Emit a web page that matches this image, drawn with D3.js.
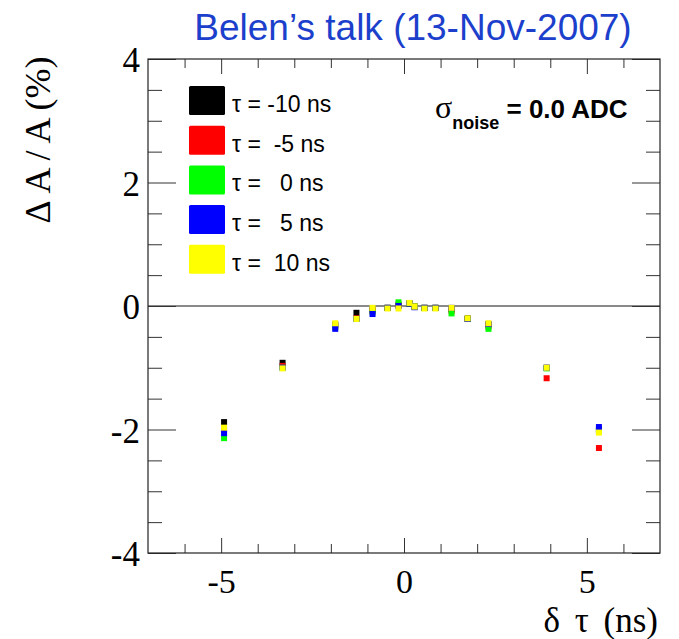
<!DOCTYPE html>
<html lang="en">
<head>
  <meta charset="UTF-8">
  <title>Delta A / A vs delta tau</title>
  <script src="https://d3js.org/d3.v7.min.js"></script>
  <style>
    body { margin: 0; background: #fff; }
    svg { display: block; }
  </style>
</head>
<body>

<script>
  // chart data
  const dtau = [-4.92, -3.32, -1.88, -1.30, -0.86, -0.45, -0.15, 0.15, 0.29, 0.56, 0.86, 1.30, 1.74, 2.31, 3.90, 5.33];

  const seriesNames = ['τ = -10 ns', 'τ =  -5 ns', 'τ =   0 ns', 'τ =   5 ns', 'τ =  10 ns'];
  const seriesColors = ['#000000', '#ff0000', '#00ff00', '#0000ff', '#ffff00'];

  const tauM10 = [-1.88, -0.92, -0.30, -0.11, -0.06, -0.03, 0.02, 0.04, -0.01, -0.03, -0.03, -0.05, -0.20, -0.30, -1.00, -2.00];
  const tauM5  = [-2.00, -0.97, -0.32, -0.20, -0.08, -0.03, 0.01, 0.04, -0.01, -0.03, -0.03, -0.08, -0.21, -0.33, -1.17, -2.30];
  const tau0   = [-2.14, -1.00, -0.34, -0.21, -0.10, -0.03, 0.06, 0.04, -0.01, -0.03, -0.03, -0.12, -0.21, -0.37, -1.01, -2.02];
  const tauP5  = [-2.06, -1.00, -0.37, -0.21, -0.13, -0.03, 0.00, 0.04, -0.02, -0.03, -0.03, -0.03, -0.21, -0.29, -1.00, -1.96];
  const tauP10 = [-1.97, -1.01, -0.28, -0.21, -0.03, -0.04, -0.04, 0.05, -0.01, -0.04, -0.04, -0.03, -0.20, -0.28, -1.00, -2.05];
  const seriesValues = [tauM10, tauM5, tau0, tauP5, tauP10];

  const xMajor = [-5, 0, 5];
  const xMinor = [-6, -4, -3, -2, -1, 1, 2, 3, 4, 6];
  const yMajor = [-4, -2, 0, 2, 4];
  const yMinor = [-3.5, -3, -2.5, -1.5, -1, -0.5, 0.5, 1, 1.5, 2.5, 3, 3.5];

  const width = 679, height = 639;
  const padL = 148, padR = 660, padT = 59, padB = 553;
  const serif = 'Liberation Serif, Times New Roman, serif';
  const sans = 'Liberation Sans, Arial, Helvetica, sans-serif';

  const svg = d3.select('body').append('svg')
    .attr('width', width)
    .attr('height', height);

  const x = d3.scaleLinear().domain([-7, 7]).range([padL, padR]);
  const y = d3.scaleLinear().domain([-4, 4]).range([padB, padT]);

  // title
  svg.append('text')
    .attr('x', 413).attr('y', 40)
    .attr('text-anchor', 'middle')
    .attr('font-family', sans).attr('font-size', 37)
    .attr('fill', '#1c3fcc')
    .text('Belen’s talk (13-Nov-2007)');

  // zero line
  svg.append('line')
    .attr('x1', x(-7)).attr('x2', x(7))
    .attr('y1', y(0)).attr('y2', y(0))
    .attr('stroke', '#8a8a8a').attr('stroke-width', 2);

  // axes (ticks on all four sides, pointing inward)
  function styleAxis(g) {
    g.select('.domain').remove();
    g.selectAll('line').attr('stroke', '#333').attr('stroke-width', 1);
    g.selectAll('text')
      .attr('font-family', serif).attr('font-size', 34).attr('fill', '#000');
  }

  svg.append('g').attr('transform', `translate(0,${padB})`)
    .call(d3.axisBottom(x).tickValues(xMajor).tickSizeInner(-15).tickSizeOuter(0)
      .tickPadding(16).tickFormat(d => String(d)))
    .call(styleAxis);
  svg.append('g').attr('transform', `translate(0,${padB})`)
    .call(d3.axisBottom(x).tickValues(xMinor).tickSize(-9).tickFormat(''))
    .call(styleAxis);
  svg.append('g').attr('transform', `translate(0,${padT})`)
    .call(d3.axisTop(x).tickValues(xMajor).tickSize(-15).tickFormat(''))
    .call(styleAxis);
  svg.append('g').attr('transform', `translate(0,${padT})`)
    .call(d3.axisTop(x).tickValues(xMinor).tickSize(-9).tickFormat(''))
    .call(styleAxis);

  svg.append('g').attr('transform', `translate(${padL},0)`)
    .call(d3.axisLeft(y).tickValues(yMajor).tickSizeInner(-28).tickSizeOuter(0)
      .tickPadding(8).tickFormat(d => String(d)))
    .call(styleAxis)
    .selectAll('text').attr('font-size', 35).attr('dy', '0.36em');
  svg.append('g').attr('transform', `translate(${padL},0)`)
    .call(d3.axisLeft(y).tickValues(yMinor).tickSize(-14).tickFormat(''))
    .call(styleAxis);
  svg.append('g').attr('transform', `translate(${padR},0)`)
    .call(d3.axisRight(y).tickValues(yMajor).tickSize(-28).tickFormat(''))
    .call(styleAxis);
  svg.append('g').attr('transform', `translate(${padR},0)`)
    .call(d3.axisRight(y).tickValues(yMinor).tickSize(-14).tickFormat(''))
    .call(styleAxis);

  // frame
  svg.append('rect')
    .attr('x', padL).attr('y', padT)
    .attr('width', padR - padL).attr('height', padB - padT)
    .attr('fill', 'none').attr('stroke', '#222').attr('stroke-width', 1.2);

  // axis titles
  svg.append('text')
    .attr('x', 658).attr('y', 632)
    .attr('text-anchor', 'end')
    .attr('font-family', serif).attr('font-size', 35)
    .attr('word-spacing', 6)
    .text('δ τ (ns)');

  svg.append('text')
    .attr('transform', 'translate(50,140) rotate(-90)')
    .attr('text-anchor', 'middle')
    .attr('font-family', serif).attr('font-size', 36)
    .text('Δ A / A (%)');

  // data points, yellow drawn last
  const ms = 6;
  seriesValues.forEach((vals, i) => {
    svg.append('g').selectAll('rect')
      .data(vals.map((v, j) => ({ x: dtau[j], y: v })))
      .join('rect')
      .attr('x', d => x(d.x) - ms / 2)
      .attr('y', d => y(d.y) - ms / 2)
      .attr('width', ms).attr('height', ms)
      .attr('fill', seriesColors[i]);
  });

  // legend
  const legend = svg.append('g');
  seriesNames.forEach((name, i) => {
    const yy = 86 + i * 39.7;
    legend.append('rect')
      .attr('x', 189).attr('y', yy)
      .attr('width', 36).attr('height', 29)
      .attr('rx', 1.5)
      .attr('fill', seriesColors[i]);
    legend.append('text')
      .attr('x', 232).attr('y', yy + 26)
      .attr('font-family', sans).attr('font-size', 23)
      .style('white-space', 'pre')
      .text(name);
  });

  // noise label
  const noise = svg.append('text')
    .attr('x', 435).attr('y', 118)
    .attr('font-family', sans).attr('font-weight', 'bold').attr('font-size', 26);
  noise.append('tspan').attr('font-family', serif).attr('font-weight', 'normal')
    .attr('font-size', 32).text('σ');
  noise.append('tspan').attr('font-size', 18).attr('dy', 11).text('noise');
  noise.append('tspan').attr('dy', -11).style('white-space', 'pre').text(' = 0.0 ADC');
</script>

</body>
</html>
